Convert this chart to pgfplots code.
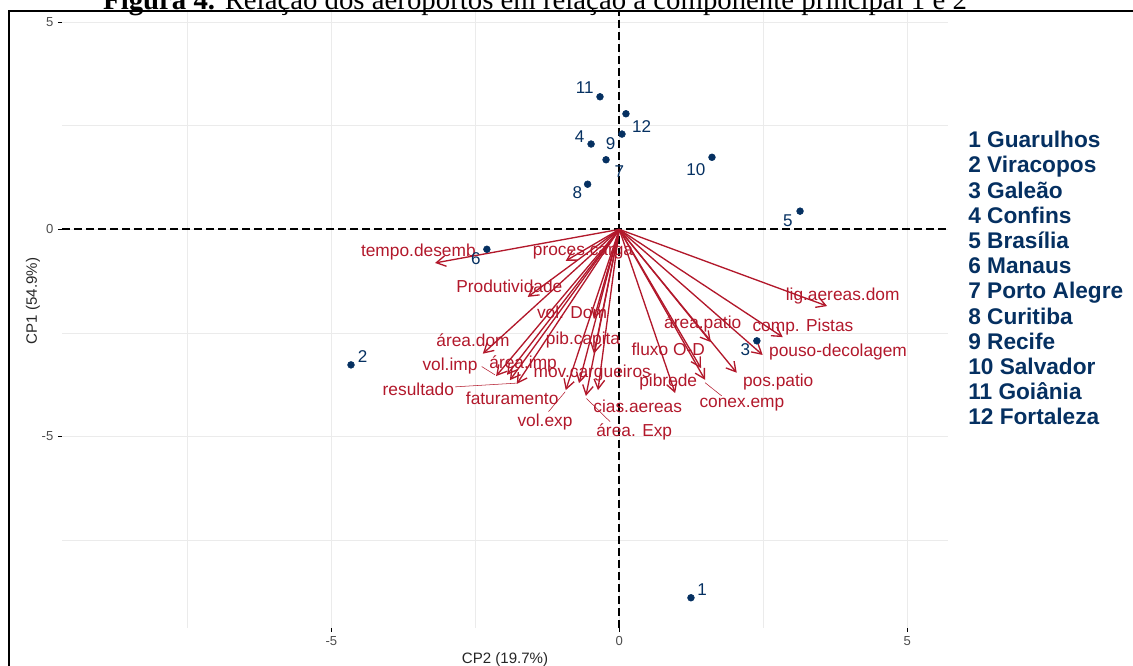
\documentclass[border=0pt]{standalone}
\usepackage{fontspec}
\setmainfont{Liberation Sans}
\newfontfamily\titlefont{Liberation Serif}
\usepackage{pgfplots}
\usepackage{pgfplotstable}
\pgfplotsset{compat=1.18}
\usetikzlibrary{arrows.meta}
\definecolor{navy}{HTML}{053061}
\definecolor{redv}{HTML}{B2182B}
\definecolor{gridc}{HTML}{EBEBEB}
\definecolor{tickc}{HTML}{4D4D4D}
\def\u{0.75pt}

\pgfplotstableread{
x y u v
0 0 -3.20 -0.81
0 0 -0.93 -0.76
0 0 -1.59 -1.63
0 0 -0.44 -2.16
0 0 -2.37 -3.00
0 0 -0.44 -3.00
0 0 -2.14 -3.54
0 0 -1.95 -3.51
0 0 -1.78 -3.73
0 0 -1.90 -3.64
0 0 -0.70 -3.71
0 0 -0.93 -3.88
0 0 -0.58 -4.02
0 0 -0.37 -3.88
0 0 1.42 -3.35
0 0 0.97 -3.95
0 0 1.59 -2.72
0 0 1.49 -3.63
0 0 2.04 -3.46
0 0 2.49 -3.03
0 0 2.84 -2.60
0 0 3.61 -1.85
}\arrowtab

\pgfplotstableread[col sep=comma]{
x,y,name
-3.49,-0.55,tempo.desemb
-0.63,-0.55,proces.carga
-1.91,-1.37,Produtividade
-0.82,-2.00,vol. Dom
-2.54,-2.67,área.dom
-0.63,-2.67,pib.capita
-2.94,-3.30,vol.imp
-1.67,-3.25,área.imp
-3.49,-3.87,resultado
-1.86,-4.07,faturamento
-0.47,-3.47,mov.cargueiros
-1.29,-4.65,vol.exp
0.32,-4.26,cias.aereas
0.26,-4.89,área. Exp
0.85,-2.89,fluxo O-D
0.85,-3.68,pibrede
1.45,-2.28,área.patio
2.13,-4.24,conex.emp
2.76,-3.68,pos.patio
3.80,-2.96,pouso-decolagem
3.19,-2.35,comp. Pistas
3.88,-1.61,lig.aereas.dom
}\labtab

\pgfplotstableread{
x y
1.245 -8.89
-4.66 -3.27
2.39 -2.69
-0.49 2.06
3.14 0.44
-2.30 -0.48
-0.23 1.68
-0.55 1.09
0.047 2.30
1.61 1.74
-0.335 3.20
0.116 2.79
}\pointtab

\pgfplotstableread[col sep=comma]{
x,y,name
1.44,-8.70,1
-4.46,-3.07,2
2.19,-2.91,3
-0.69,2.23,4
2.93,0.22,5
-2.49,-0.70,6
0.00,1.39,7
-0.73,0.88,8
-0.15,2.06,9
1.33,1.45,10
-0.60,3.41,11
0.39,2.47,12
}\ptlabtab

\begin{document}
\begin{tikzpicture}
\begin{axis}[
  at={({62*\u},{-628*\u})}, anchor=south west,
  scale only axis, width={886*\u}, height={617*\u},
  xmin=-9.68, xmax=5.71, ymin=-9.62, ymax=5.27,
  clip=false,
  axis line style={draw=none},
  xtick={-5,0,5}, ytick={-5,0,5},
  minor xtick={-7.5,-2.5,2.5}, minor ytick={-7.5,-2.5,2.5},
  xtick pos=bottom, ytick pos=left,
  tick align=outside,
  major tick length={4*\u}, minor tick length=0pt,
  tick style={black, line width=0.6pt},
  grid=both,
  major grid style={gridc, line width=0.8pt},
  minor grid style={gridc, line width=0.45pt},
  /pgf/number format/assume math mode=true,
  tick label style={font=\fontsize{9.8}{10}\selectfont, text=tickc},
  xlabel={CP2 (19.7\%)},
  label style={font=\fontsize{11.3}{12}\selectfont, text=black!85},
  xlabel style={yshift=2pt},
]
\addplot[black, line width=1.5pt, dash pattern=on 6pt off 3pt] coordinates {(0,-9.62) (0,5.27)};
\addplot[black, line width=1.5pt, dash pattern=on 6pt off 3pt] coordinates {(-9.68,0) (5.71,0)};

\addplot[only marks, mark=*, mark size={3.4*\u}, navy] table[x=x,y=y] {\pointtab};

\addplot[redv, line width=1pt, -{Straight Barb[length=7pt,width=8pt]},
  quiver={u=\thisrow{u}, v=\thisrow{v}}] table[x=x,y=y] {\arrowtab};

\addplot[redv, line width=0.4pt] coordinates {(-2.85,-3.80) (-1.78,-3.71)};
\addplot[redv, line width=0.4pt] coordinates {(-2.39,-3.31) (-2.16,-3.51)};
\addplot[redv, line width=0.4pt] coordinates {(-1.23,-4.40) (-0.94,-3.92)};
\addplot[redv, line width=0.4pt] coordinates {(-0.57,-4.08) (-0.16,-4.64)};
\addplot[redv, line width=0.4pt] coordinates {(1.49,-3.70) (1.78,-4.02)};

\addplot[draw=none, mark=none, nodes near coords, point meta=explicit symbolic,
  nodes near coords style={anchor=center, inner sep=0pt, text=redv, font=\fontsize{13}{13}\selectfont}]
  table[x=x,y=y,meta=name] {\labtab};

\addplot[draw=none, mark=none, nodes near coords, point meta=explicit symbolic,
  nodes near coords style={anchor=center, inner sep=0pt, text=navy, font=\fontsize{12.8}{13}\selectfont}]
  table[x=x,y=y,meta=name] {\ptlabtab};
\end{axis}

\node[rotate=90, inner sep=0pt, text=black!85, font=\fontsize{11.3}{12}\selectfont] at ({33*\u},{-301*\u}) {CP1 (54.9\%)};

\foreach \t [count=\i from 0] in {1 Guarulhos, 2 Viracopos, 3 Galeão, 4 Confins, 5 Brasília, 6 Manaus, 7 Porto Alegre, 8 Curitiba, 9 Recife, 10 Salvador, 11 Goiânia, 12 Fortaleza}
  \node[anchor=base west, inner sep=0pt, text=navy, font=\bfseries\fontsize{17}{17}\selectfont] at ({968*\u},{-(147.7+25.2*\i)*\u}) {\t};

\node[anchor=base, inner sep=0pt, font=\titlefont\fontsize{21.6}{22}\selectfont] at ({535*\u},{-9.5*\u}) {\textbf{Figura 4.} Relação dos aeroportos em relação à componente principal 1 e 2};

\draw[line width=1.6pt, black] ({9*\u},{-700*\u}) -- ({9*\u},{-11*\u}) -- ({1140*\u},{-11*\u});

\pgfresetboundingbox
\useasboundingbox (0,0) rectangle ({1133*\u},{-665*\u});
\end{tikzpicture}
\end{document}
